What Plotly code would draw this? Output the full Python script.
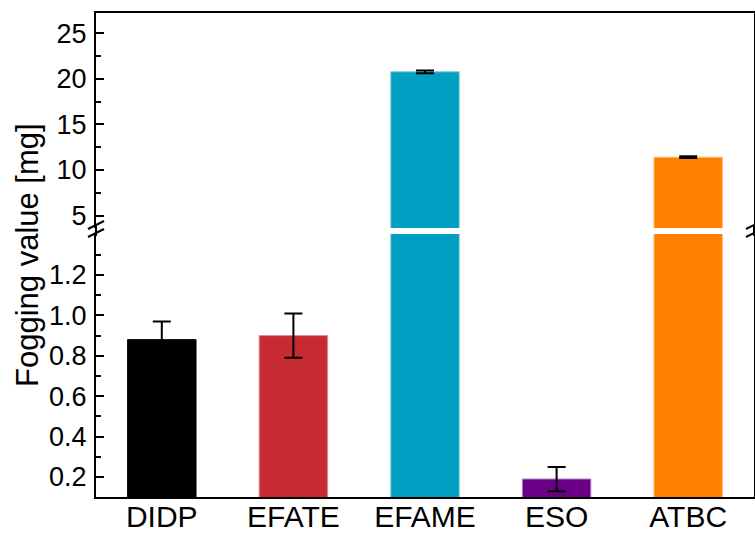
import plotly.graph_objects as go

# Data
samples = ["DIDP", "EFATE", "EFAME", "ESO", "ATBC"]
fogging_mg = [0.88, 0.90, 20.76, 0.19, 11.41]
fogging_err = [0.09, 0.11, 0.15, 0.06, 0.10]
bar_colors = ["#000000", "#C62B32", "#009EC0", "#6A0087", "#FF8000"]
edge_colors = ["#000000", "#E08A8E", "#7FCEE0", "#B47FC3", "#FFBF80"]

low_ticks = [0.2, 0.4, 0.6, 0.8, 1.0, 1.2]
high_ticks = [5, 10, 15, 20, 25]

W, H = 755, 533
ML, MR, MT, MB = 96, 1, 13, 36
PW, PH = W - ML - MR, H - MT - MB


def px_x(px):
    return (px - ML) / PW


def px_y(py):
    return (H - MB - py) / PH


FONT = "Liberation Sans, Arial, sans-serif"

fig = go.Figure()
for xa, ya in (("x", "y"), ("x2", "y2")):
    fig.add_trace(go.Bar(
        x=samples, y=fogging_mg, width=0.52,
        marker=dict(color=bar_colors, line=dict(color=edge_colors, width=1)),
        error_y=dict(type="data", array=fogging_err, visible=True,
                     color="black", thickness=2, width=9),
        xaxis=xa, yaxis=ya, showlegend=False,
    ))

low_top = px_y(234)
high_bottom = px_y(228)

axis_common = dict(
    showline=True, linecolor="black", linewidth=2, mirror=True,
    ticks="inside", ticklen=8, tickwidth=2, tickcolor="black",
    showgrid=False, zeroline=False, automargin=False,
    ticklabelstandoff=2,
    tickfont=dict(family=FONT, size=27, color="black"),
)

fig.update_layout(
    width=W, height=H,
    margin=dict(l=ML, r=MR, t=MT, b=MB, autoexpand=False),
    paper_bgcolor="white", plot_bgcolor="white",
    bargap=0.48,
    xaxis=dict(domain=[0, 1], anchor="y", range=[-0.5, 4.5],
               showline=True, linecolor="black", linewidth=2, mirror=False,
               ticks="", showgrid=False, zeroline=False, automargin=False,
               ticklabelstandoff=-8,
               tickfont=dict(family=FONT, size=30, color="black")),
    xaxis2=dict(domain=[0, 1], anchor="y2", matches="x", side="top",
                showline=True, linecolor="black", linewidth=2, mirror=False,
                ticks="", showticklabels=False, showgrid=False,
                zeroline=False, automargin=False),
    yaxis=dict(domain=[0, low_top], anchor="x", range=[0.101, 1.403],
               tickvals=low_ticks, tickformat=".1f",
               minor=dict(dtick=0.1, tick0=0, ticks="inside", ticklen=5,
                          tickwidth=2, tickcolor="black"),
               **axis_common),
    yaxis2=dict(domain=[high_bottom, 1], anchor="x2", range=[3.65, 27.2],
                tickvals=high_ticks,
                minor=dict(dtick=2.5, tick0=0, ticks="inside", ticklen=5,
                           tickwidth=2, tickcolor="black"),
                **axis_common),
)

# continuous frame lines across the break
for xpx in (ML, W - MR):
    fig.add_shape(type="line", xref="paper", yref="paper",
                  x0=px_x(xpx), x1=px_x(xpx), y0=px_y(236), y1=px_y(226),
                  line=dict(color="black", width=2))

# axis-break marks
for xpx in (ML, W - MR):
    for dy in (0, 8):
        fig.add_shape(type="line", xref="paper", yref="paper",
                      x0=px_x(xpx - 8), y0=px_y(229 + dy),
                      x1=px_x(xpx + 8), y1=px_y(221 + dy),
                      line=dict(color="black", width=2))

fig.add_annotation(
    text="Fogging value [mg]", xref="paper", yref="paper",
    x=px_x(27), y=px_y(255), xanchor="center", yanchor="middle",
    textangle=-90, showarrow=False,
    font=dict(family=FONT, size=31, color="black"),
)

fig.write_html("out.html")
